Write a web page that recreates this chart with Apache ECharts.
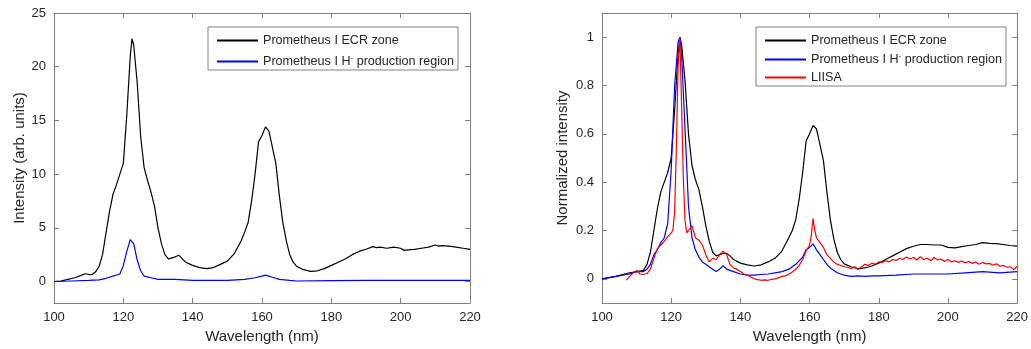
<!DOCTYPE html>
<html>
<head>
<meta charset="utf-8">
<script src="https://cdn.jsdelivr.net/npm/echarts@6/dist/echarts.min.js"></script>
<style>
html,body{margin:0;padding:0;background:#fff;}
#chart{width:1031px;height:349px;}
</style>
</head>
<body>
<div id="chart"></div>
<script>
// ---- Data ----
const xTicks = [100, 120, 140, 160, 180, 200, 220];
const leftYTicks = [0, 5, 10, 15, 20, 25];
const rightYTicks = [0, 0.2, 0.4, 0.6, 0.8, 1];

// Left panel: Prometheus I ECR zone (arb. units)
const leftEcrX = [100,102,104,106,108,109,110,111,112,113,114,115,116,117,118,119,120,121,122,122.5,123,124,125,126,127,128,129,130,131,132,133,134,135,136,137,138,140,142,144,146,148,150,152,154,155,156,157,158,159,160,161,162,163,164,165,166,167,168,169,170,172,174,176,178,180,182,184,186,188,190,192,193,194,196,198,200,201,202,204,206,208,210,211,212,214,216,218,220];
const leftEcrY = [0.0,0.05,0.2,0.35,0.6,0.72,0.65,0.66,0.9,1.4,2.5,4.5,6.5,8.1,9.0,10.0,11.0,15.5,21.0,22.6,22.0,18.5,13.5,10.6,9.4,8.3,7.0,5.0,3.5,2.5,2.1,2.2,2.3,2.45,2.1,1.8,1.5,1.3,1.2,1.3,1.6,1.9,2.6,3.8,4.6,5.5,7.5,10.0,13.0,13.6,14.4,14.0,12.5,11.0,8.0,5.5,3.8,2.5,1.8,1.4,1.1,0.95,1.0,1.2,1.5,1.8,2.1,2.5,2.8,3.0,3.25,3.15,3.2,3.1,3.2,3.1,2.9,2.95,3.0,3.1,3.2,3.4,3.3,3.35,3.3,3.2,3.1,3.0];

// Left panel: Prometheus I H- production region
const leftHX = [100,105,110,113,115,117,119,120,121,122,123,124,125,126,128,130,135,140,145,150,155,158,160,161,162,163,165,168,170,180,190,200,210,220];
const leftHY = [0.0,0.05,0.1,0.15,0.3,0.5,0.7,1.5,2.8,3.9,3.5,2.0,1.0,0.5,0.35,0.2,0.2,0.1,0.1,0.1,0.2,0.35,0.5,0.6,0.5,0.4,0.2,0.1,0.05,0.08,0.1,0.1,0.12,0.1];

// Right panel: Prometheus I ECR zone (normalized)
const rightEcrX = [100,104,108,110,112,113,114,115,116,117,118,119,120,121,122,122.5,123,124,125,126,127,128,129,130,131,132,133,134,135,136,137,138,140,142,144,146,148,150,152,154,155,156,157,158,159,160,161,162,163,164,165,166,167,168,169,170,172,174,176,178,180,182,184,186,188,190,192,194,196,198,200,202,204,206,208,210,212,214,216,218,220];
const rightEcrY = [0.0,0.01,0.025,0.03,0.035,0.06,0.11,0.2,0.29,0.36,0.4,0.44,0.5,0.7,0.93,1.0,0.97,0.82,0.6,0.47,0.41,0.37,0.3,0.22,0.155,0.11,0.095,0.1,0.105,0.105,0.095,0.08,0.065,0.058,0.053,0.058,0.07,0.085,0.115,0.17,0.2,0.245,0.33,0.44,0.57,0.6,0.635,0.62,0.555,0.49,0.36,0.245,0.165,0.11,0.08,0.062,0.05,0.042,0.045,0.053,0.065,0.08,0.095,0.11,0.125,0.135,0.142,0.142,0.14,0.14,0.13,0.128,0.133,0.138,0.142,0.15,0.147,0.146,0.142,0.138,0.135];

// Right panel: Prometheus I H- production region (normalized)
const rightHX = [100,104,108,110,112,113,114,115,116,117,118,119,120,121,122,122.5,123,124,125,126,127,128,129,130,131,132,133,134,135,136,137,138,140,142,144,146,148,150,152,154,156,158,159,160,161,162,163,164,165,166,168,170,172,174,176,178,180,185,190,195,200,205,210,215,220];
const rightHY = [0.0,0.01,0.02,0.03,0.03,0.04,0.06,0.1,0.12,0.15,0.17,0.23,0.45,0.8,0.98,1.0,0.93,0.62,0.3,0.17,0.12,0.09,0.07,0.06,0.05,0.04,0.03,0.04,0.055,0.04,0.035,0.03,0.02,0.015,0.015,0.018,0.02,0.025,0.03,0.04,0.06,0.09,0.12,0.13,0.145,0.12,0.1,0.08,0.06,0.045,0.025,0.015,0.01,0.012,0.01,0.012,0.012,0.015,0.02,0.02,0.02,0.025,0.03,0.025,0.03];

// Right panel: LIISA (normalized)
const liisaX = [107,108,109,110,111,112,113,114,115,116,117,118,119,120,120.5,121,121.5,122,122.5,123,123.5,124,124.5,125,126,127,128,129,130,131,132,133,134,135,136,137,138,139,140,141,142,143,144,145,146,147,148,149,150,151,152,153,154,155,156,157,158,159,160,160.5,161,161.5,162,163,164,165,166,167,168,169,170,171,172,173,174,175,176,177,178,179,180,181,182,183,184,185,186,187,188,189,190,191,192,193,194,195,196,197,198,199,200,201,202,203,204,205,206,207,208,209,210,211,212,213,214,215,216,217,218,219,220];
const liisaY = [-0.005,0.01,0.025,0.035,0.02,0.018,0.022,0.04,0.085,0.125,0.14,0.155,0.175,0.19,0.2,0.28,0.55,0.88,1.0,0.72,0.42,0.24,0.19,0.2,0.22,0.17,0.16,0.14,0.1,0.07,0.085,0.08,0.1,0.115,0.1,0.06,0.045,0.04,0.03,0.02,0.015,0.008,0.0,-0.003,-0.006,-0.004,-0.006,-0.002,0.0,0.004,0.01,0.012,0.02,0.028,0.04,0.055,0.08,0.115,0.14,0.18,0.25,0.2,0.17,0.15,0.13,0.1,0.085,0.07,0.06,0.055,0.05,0.048,0.042,0.05,0.038,0.05,0.06,0.055,0.065,0.06,0.07,0.068,0.075,0.07,0.08,0.076,0.085,0.08,0.09,0.082,0.088,0.078,0.092,0.08,0.085,0.075,0.088,0.078,0.082,0.072,0.08,0.07,0.075,0.068,0.074,0.066,0.072,0.064,0.07,0.06,0.068,0.062,0.064,0.056,0.062,0.052,0.056,0.048,0.05,0.038,0.052];

const pairs = (xs, ys) => xs.map((x, i) => [x, ys[i]]);

// ---- Styling ----
const TXT = '#262626';
const AX = '#808080';
const FONT = 'Liberation Sans, Arial, Helvetica, sans-serif';
const H_NAME = 'Prometheus I H- production region';

function xAxes(gridIndex) {
  return [
    {
      type: 'value', gridIndex, min: 100, max: 220, interval: 20, position: 'bottom',
      name: 'Wavelength (nm)', nameLocation: 'middle', nameGap: 26,
      nameTextStyle: { color: TXT, fontSize: 15, fontFamily: FONT },
      axisLine: { show: true, onZero: false, lineStyle: { color: AX, width: 1 } },
      axisTick: { show: true, inside: true, length: 5, lineStyle: { color: AX } },
      axisLabel: { color: TXT, fontSize: 13, fontFamily: FONT, margin: 8 },
      splitLine: { show: false }
    },
    {
      type: 'value', gridIndex, min: 100, max: 220, interval: 20, position: 'top',
      axisLine: { show: true, onZero: false, lineStyle: { color: AX, width: 1 } },
      axisTick: { show: true, inside: true, length: 5, lineStyle: { color: AX } },
      axisLabel: { show: false },
      splitLine: { show: false }
    }
  ];
}

function yAxes(gridIndex, min, max, ticks, name, gap) {
  return [
    {
      type: 'value', gridIndex, min, max, position: 'left',
      name, nameLocation: 'middle', nameGap: gap,
      nameTextStyle: { color: TXT, fontSize: 15, fontFamily: FONT },
      axisLine: { show: true, onZero: false, lineStyle: { color: AX, width: 1 } },
      axisTick: { show: true, inside: true, length: 5, lineStyle: { color: AX }, customValues: ticks },
      axisLabel: { color: TXT, fontSize: 13, fontFamily: FONT, margin: 8, customValues: ticks },
      splitLine: { show: false }
    },
    {
      type: 'value', gridIndex, min, max, position: 'right',
      axisLine: { show: true, onZero: false, lineStyle: { color: AX, width: 1 } },
      axisTick: { show: true, inside: true, length: 5, lineStyle: { color: AX }, customValues: ticks },
      axisLabel: { show: false },
      splitLine: { show: false }
    }
  ];
}

function line(name, data, color, xi, yi) {
  return {
    type: 'line', name, data, xAxisIndex: xi, yAxisIndex: yi,
    showSymbol: false, symbol: 'none', smooth: false, animation: false,
    lineStyle: { color, width: 1.2 }, itemStyle: { color }
  };
}

const legendCommon = {
  orient: 'vertical', icon: 'rect', itemWidth: 41, itemHeight: 2, itemGap: 7,
  backgroundColor: '#fff', borderColor: AX, borderWidth: 1, borderRadius: 0,
  padding: [7, 4, 2, 9], selectedMode: false,
  formatter: function (n) {
    if (n === H_NAME) return '{a|Prometheus I H}{s|-}{a| production region}';
    return '{a|' + n + '}';
  },
  textStyle: {
    color: TXT, fontSize: 12.6, fontFamily: FONT,
    rich: {
      a: { color: TXT, fontSize: 12.6, fontFamily: FONT, lineHeight: 15 },
      s: { color: TXT, fontSize: 8, fontFamily: FONT, verticalAlign: 'top', lineHeight: 15, padding: [0, 0, 5, 0] }
    }
  }
};

const option = {
  animation: false,
  backgroundColor: '#fff',
  grid: [
    { left: 54, right: 561, top: 13, bottom: 45 },
    { left: 602, right: 12, top: 13, bottom: 45 }
  ],
  xAxis: [...xAxes(0), ...xAxes(1)],
  yAxis: [
    ...yAxes(0, -2, 25, leftYTicks, 'Intensity (arb. units)', 27),
    ...yAxes(1, -0.1, 1.1, rightYTicks, 'Normalized intensity', 32)
  ],
  legend: [
    Object.assign({}, legendCommon, {
      left: 208, top: 27,
      data: ['Prometheus I ECR zone', H_NAME]
    }),
    Object.assign({}, legendCommon, {
      left: 756, top: 27, itemGap: 5,
      data: ['Prometheus I ECR zone', H_NAME, 'LIISA']
    })
  ],
  series: [
    line('Prometheus I ECR zone', pairs(leftEcrX, leftEcrY), '#000000', 0, 0),
    line(H_NAME, pairs(leftHX, leftHY), '#0000ff', 0, 0),
    line('Prometheus I ECR zone', pairs(rightEcrX, rightEcrY), '#000000', 2, 2),
    line(H_NAME, pairs(rightHX, rightHY), '#0000ff', 2, 2),
    line('LIISA', pairs(liisaX, liisaY), '#ff0000', 2, 2)
  ]
};

const chart = echarts.init(document.getElementById('chart'), null, { renderer: 'canvas' });
chart.setOption(option);
</script>
</body>
</html>
